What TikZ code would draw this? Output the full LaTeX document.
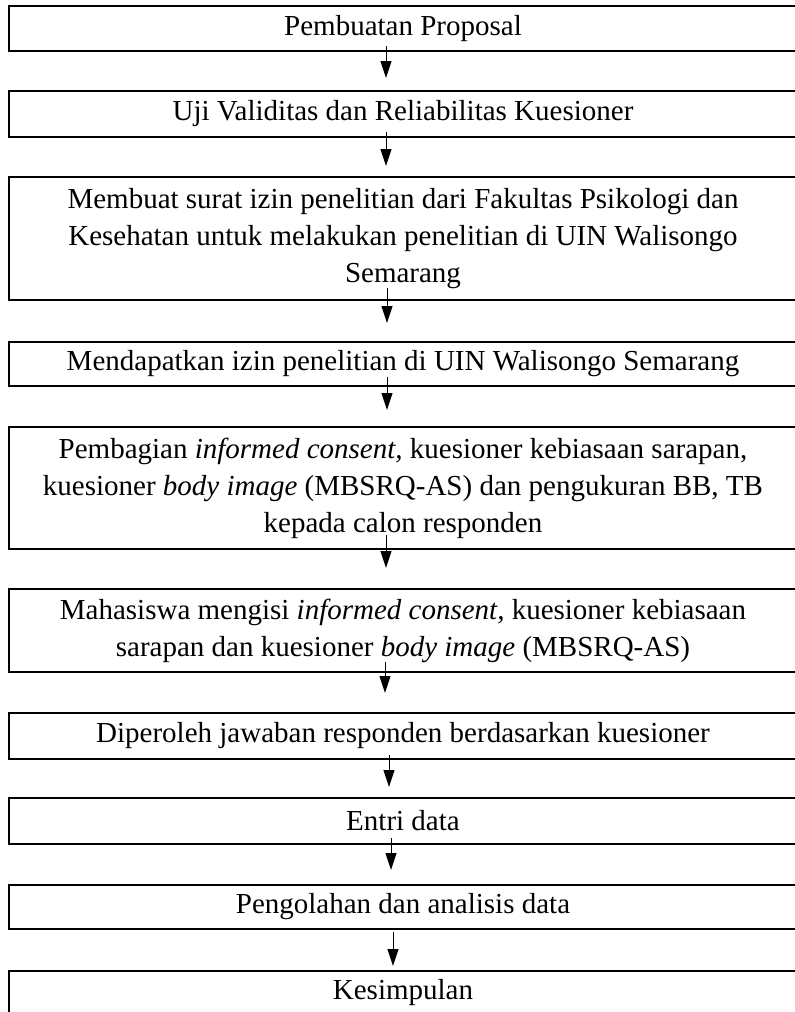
\documentclass[tikz,border=0pt]{standalone}
\usepackage{fontspec}
\setmainfont{Liberation Serif}
\usetikzlibrary{arrows.meta,positioning}

\begin{document}
\begin{tikzpicture}[>={Triangle[width=11pt,length=17pt]}, node distance=40pt,
	box/.style={draw, line width=1.7pt, minimum width=788pt, inner sep=0pt, outer sep=0pt, align=center, font=\fontsize{29}{37}\selectfont},
	flow/.style={->, line width=1pt}]
	\useasboundingbox (0,0) rectangle (795pt,-1012pt);
	
	% Nodes {b1, b2, b3, ..., b10}
	\node [box, minimum height=45pt]	(b1) at (403pt,-28.5pt)	{Pembuatan Proposal};
	\node [box, minimum height=46pt]	(b2)  [below=of b1]	{Uji Validitas dan Reliabilitas Kuesioner};
	\node [box, minimum height=123pt]	(b3)  [below=of b2]	{Membuat surat izin penelitian dari Fakultas Psikologi dan\\ Kesehatan untuk melakukan penelitian di UIN Walisongo\\ Semarang};
	\node [box, minimum height=44pt]	(b4)  [below=42pt of b3]	{Mendapatkan izin penelitian di UIN Walisongo Semarang};
	\node [box, minimum height=122pt]	(b5)  [below=41pt of b4]	{Pembagian \textit{informed consent,} kuesioner kebiasaan sarapan,\\ kuesioner \textit{body image} (MBSRQ-AS) dan pengukuran BB, TB\\ kepada calon responden};
	\node [box, minimum height=83pt]	(b6)  [below=of b5]	{Mahasiswa mengisi \textit{informed consent,} kuesioner kebiasaan\\ sarapan dan kuesioner \textit{body image} (MBSRQ-AS)};
	\node [box, minimum height=46pt]	(b7)  [below=41pt of b6]	{Diperoleh jawaban responden berdasarkan kuesioner};
	\node [box, minimum height=46pt]	(b8)  [below=39pt of b7]	{Entri data};
	\node [box, minimum height=44pt]	(b9)  [below=41pt of b8]	{Pengolahan dan analisis data};
	\node [box, minimum height=44pt]	(b10) [below=42pt of b9]	{Kesimpulan};
	
	% Paths
	\path [flow] ([xshift=-17pt,yshift=5pt]b1.south)	edge ([xshift=-17pt,yshift=13pt]b2.north);
	\path [flow] ([xshift=-17pt,yshift=5pt]b2.south)	edge ([xshift=-17pt,yshift=11pt]b3.north);
	\path [flow] ([xshift=-16pt,yshift=12pt]b3.south)	edge ([xshift=-16pt,yshift=19pt]b4.north);
	\path [flow] ([xshift=-16pt,yshift=9pt]b4.south)	edge ([xshift=-16pt,yshift=17pt]b5.north);
	\path [flow] ([xshift=-17pt,yshift=14pt]b5.south)	edge ([xshift=-17pt,yshift=21pt]b6.north);
	\path [flow] ([xshift=-18pt,yshift=10pt]b6.south)	edge ([xshift=-18pt,yshift=20pt]b7.north);
	\path [flow] ([xshift=-14pt,yshift=4pt]b7.south)	edge ([xshift=-14pt,yshift=11pt]b8.north);
	\path [flow] ([xshift=-12pt,yshift=6pt]b8.south)	edge ([xshift=-12pt,yshift=15pt]b9.north);
	\path [flow] ([xshift=-10pt,yshift=-3pt]b9.south)	edge ([xshift=-10pt,yshift=5pt]b10.north);
	
\end{tikzpicture}
\end{document}
